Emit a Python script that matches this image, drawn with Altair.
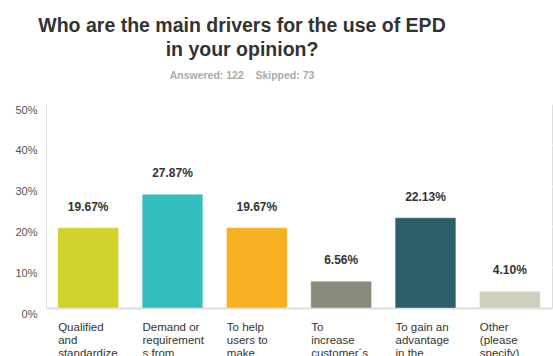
import altair as alt
import pandas as pd

categories = [
    "Qualified|and|standardize",
    "Demand or|requirement|s from",
    "To help|users to|make",
    "To|increase|customer\u00b4s",
    "To gain an|advantage|in the",
    "Other|(please|specify)",
]
values = [0.1967, 0.2787, 0.1967, 0.0656, 0.2213, 0.0410]
labels = ["19.67%", "27.87%", "19.67%", "6.56%", "22.13%", "4.10%"]
colors = ["#d1d32b", "#35bebe", "#f7b01f", "#898a79", "#2e5e6c", "#d0cebe"]

df = pd.DataFrame({"cat": categories, "val": values, "lab": labels, "col": colors})

x = alt.X(
    "cat:N",
    sort=categories,
    scale=alt.Scale(paddingInner=0.28, paddingOuter=0.14),
    axis=alt.Axis(
        title=None,
        labelAngle=0,
        labelAlign="left",
        labelBaseline="top",
        labelOffset=-30,
        labelPadding=13,
        labelExpr="split(datum.label, '|')",
        labelLineHeight=13,
        labelFontSize=11.5,
        labelColor="#333333",
        labelFont="Liberation Sans",
        ticks=False,
        domainColor="#dddddd",
        domainWidth=2,
        grid=False,
        labelLimit=0,
    ),
)

y = alt.Y(
    "val:Q",
    scale=alt.Scale(domain=[0, 0.5]),
    axis=alt.Axis(
        title=None,
        format=".0%",
        values=[0, 0.1, 0.2, 0.3, 0.4, 0.5],
        labelFontSize=11,
        labelColor="#555555",
        labelFont="Liberation Sans",
        labelPadding=9,
        labelOffset=6,
        ticks=False,
        domainColor="#dddddd",
        domainWidth=1,
        gridColor="#ffffff",
        gridWidth=1.5,
        gridOpacity=1,
    ),
)

bars = alt.Chart(df).mark_bar(stroke="#ffffff", strokeOpacity=0.35, strokeWidth=1).encode(
    x=x,
    y=y,
    color=alt.Color("col:N", scale=None),
)

text = alt.Chart(df).mark_text(
    dy=-14, baseline="bottom", fontSize=12, fontWeight="bold", color="#333333", font="Liberation Sans"
).encode(x=alt.X("cat:N", sort=categories), y="val:Q", text="lab:N")

chart = (
    alt.layer(bars, text)
    .properties(
        width=506,
        height=204,
        padding={"left": 46, "top": 104, "right": 1, "bottom": 50},
        autosize=alt.AutoSizeParams(type="none"),
        title=alt.Title(
            ["Who are the main drivers for the use of EPD", "in your opinion?"],
            subtitle="Answered: 122\u00a0\u00a0\u00a0\u00a0Skipped: 73",
            anchor="middle",
            dx=-57,
            offset=22,
            font="Liberation Sans",
            fontSize=19.5,
            fontWeight="bold",
            color="#333333",
            lineHeight=24,
            subtitleFont="Liberation Sans",
            subtitleFontSize=10.5,
            subtitleFontWeight="bold",
            subtitleColor="#aaaaaa",
            subtitlePadding=10,
        ),
    )
    .configure_view(fill="#efefef", stroke=None)
    .configure(background="#ffffff")
)

chart.save("out.html", embed_options={"renderer": "svg", "actions": False})
